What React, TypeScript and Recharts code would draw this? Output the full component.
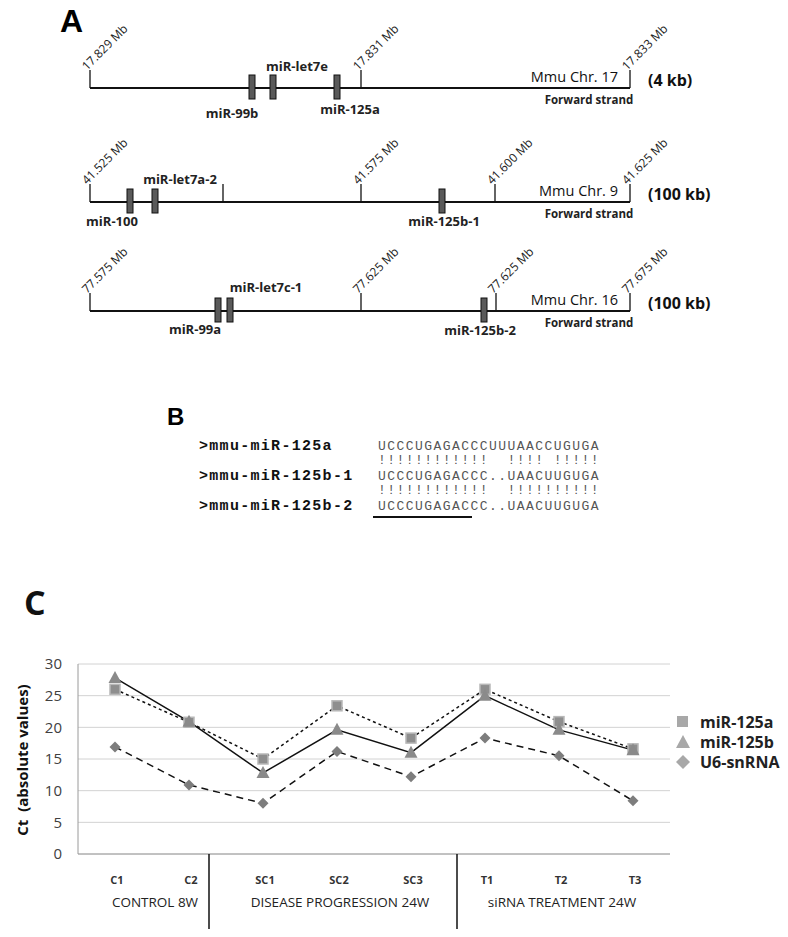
import { LineChart, Line, XAxis, YAxis, CartesianGrid, Legend } from 'recharts';

// panel C data
const categories = ['C1', 'C2', 'SC1', 'SC2', 'SC3', 'T1', 'T2', 'T3'];
const mir125a = [26.0, 20.8, 15.0, 23.4, 18.3, 26.0, 20.9, 16.6];
const mir125b = [27.8, 20.9, 12.8, 19.6, 16.0, 25.0, 19.6, 16.4];
const u6snRNA = [16.9, 10.9, 8.0, 16.2, 12.2, 18.3, 15.5, 8.4];
const yTicks = [0, 5, 10, 15, 20, 25, 30];
const groups = [
  { label: 'CONTROL 8W', first: 0, last: 1 },
  { label: 'DISEASE PROGRESSION 24W', first: 2, last: 4 },
  { label: 'siRNA TREATMENT 24W', first: 5, last: 7 },
];

// panel A: genomic maps
const tracks = [
  {
    y: 88,
    ticks: [
      { x: 90, label: '17.829 Mb' },
      { x: 361, label: '17.831 Mb' },
      { x: 630, label: '17.833 Mb' },
    ],
    boxes: [252, 273, 337],
    genes: [
      { name: 'miR-let7e', x: 297, dy: -17 },
      { name: 'miR-99b', x: 232, dy: 30 },
      { name: 'miR-125a', x: 350, dy: 26 },
    ],
    chr: 'Mmu Chr. 17',
    size: '(4 kb)',
  },
  {
    y: 202,
    ticks: [
      { x: 90, label: '41.525 Mb' },
      { x: 223, label: '' },
      { x: 361, label: '41.575 Mb' },
      { x: 495, label: '41.600 Mb' },
      { x: 630, label: '41.625 Mb' },
    ],
    boxes: [130, 155, 442],
    genes: [
      { name: 'miR-let7a-2', x: 180, dy: -18 },
      { name: 'miR-100', x: 112, dy: 24 },
      { name: 'miR-125b-1', x: 444, dy: 24 },
    ],
    chr: 'Mmu Chr. 9',
    size: '(100 kb)',
  },
  {
    y: 311,
    ticks: [
      { x: 90, label: '77.575 Mb' },
      { x: 361, label: '77.625 Mb' },
      { x: 496, label: '77.625 Mb' },
      { x: 630, label: '77.675 Mb' },
    ],
    boxes: [218, 230, 484],
    genes: [
      { name: 'miR-let7c-1', x: 266, dy: -19 },
      { name: 'miR-99a', x: 195, dy: 23 },
      { name: 'miR-125b-2', x: 480, dy: 24 },
    ],
    chr: 'Mmu Chr. 16',
    size: '(100 kb)',
  },
];

// panel B: alignment
const seqNames = ['>mmu-miR-125a', '>mmu-miR-125b-1', '>mmu-miR-125b-2'];
const seqs = ['UCCCUGAGACCCUUUAACCUGUGA', 'UCCCUGAGACCC..UAACUUGUGA', 'UCCCUGAGACCC..UAACUUGUGA'];
const matches = ['!!!!!!!!!!!!  !!!! !!!!!', '!!!!!!!!!!!!  !!!!!!!!!!'];

const rows = categories.map((c, i) => ({
  cat: c,
  a: mir125a[i],
  b: mir125b[i],
  u6: u6snRNA[i],
}));

const FONT = '"Open Sans", sans-serif';
const nb = (s: string) => s.replace(/ /g, '\u00A0');

const SquareDot = (p: any) => {
  if (p.cx == null) return null;
  return <rect key={`a-${p.index}`} x={p.cx - 5} y={p.cy - 5} width={10} height={10} fill="#8e8e8e" stroke="#b8b8b8" strokeWidth={1.5} />;
};
const TriDot = (p: any) => {
  if (p.cx == null) return null;
  const { cx, cy } = p;
  return <polygon key={`b-${p.index}`} points={`${cx},${cy - 7} ${cx + 6.5},${cy + 5} ${cx - 6.5},${cy + 5}`} fill="#8a8a8a" />;
};
const DiaDot = (p: any) => {
  if (p.cx == null) return null;
  const { cx, cy } = p;
  return <polygon key={`u-${p.index}`} points={`${cx},${cy - 5.5} ${cx + 5.5},${cy} ${cx},${cy + 5.5} ${cx - 5.5},${cy}`} fill="#7d7d7d" />;
};

const CatTick = (props: any) => {
  const { x, y, index, width } = props;
  const band = (width || 592) / categories.length;
  const g = groups.find((gr) => gr.first === index);
  return (
    <g>
      <text x={x + 2} y={y + 22} textAnchor="middle" fontSize={11} fontWeight={700} fill="#333" fontFamily={FONT}>
        {categories[index]}
      </text>
      {g && (
        <text x={x + ((g.last - g.first) / 2) * band + 3} y={y + 45} textAnchor="middle" fontSize={13.5} fill="#222" fontFamily={FONT}>
          {g.label}
        </text>
      )}
    </g>
  );
};

const legendItems = [
  { name: 'miR-125a', shape: 'square' },
  { name: 'miR-125b', shape: 'triangle' },
  { name: 'U6-snRNA', shape: 'diamond' },
];

const renderLegend = () => (
  <div style={{ fontFamily: FONT }}>
    {legendItems.map((it) => (
      <div key={it.name} style={{ display: 'flex', alignItems: 'center', height: 20 }}>
        <svg width={22} height={18}>
          {it.shape === 'square' && <rect x={3} y={3} width={11} height={11} fill="#a8a8a8" />}
          {it.shape === 'triangle' && <polygon points="9,2 16,15 2,15" fill="#a8a8a8" />}
          {it.shape === 'diamond' && <polygon points="9,2 16,9 9,16 2,9" fill="#a8a8a8" />}
        </svg>
        <span style={{ fontSize: 16, fontWeight: 700, color: '#222', marginLeft: 4 }}>{it.name}</span>
      </div>
    ))}
  </div>
);

const App = () => {
  return (
    <div style={{ position: 'absolute', left: 0, top: 0, width: 788, height: 937, background: '#fff', overflow: 'hidden' }}>
      <div style={{ position: 'absolute', left: 0, top: 600 }}>
        <LineChart width={788} height={337} data={rows} margin={{ top: 64, right: 118, bottom: 0, left: 0 }}>
          <CartesianGrid vertical={false} stroke="#d2d2d2" />
          <XAxis
            dataKey="cat"
            height={83}
            interval={0}
            tickLine={false}
            axisLine={{ stroke: '#9a9a9a' }}
            padding={{ left: 37, right: 37 }}
            tick={<CatTick />}
          />
          <YAxis
            domain={[0, 30]}
            ticks={yTicks}
            width={78}
            tickLine={false}
            tickMargin={10}
            axisLine={{ stroke: '#9a9a9a' }}
            tick={{ fontSize: 15, fill: '#404040', fontFamily: FONT }}
          />
          <YAxis yAxisId="r" orientation="right" domain={[0, 30]} width={0} tick={false} tickLine={false} axisLine={{ stroke: '#9a9a9a' }} />
          <Legend layout="horizontal" align="center" verticalAlign="middle" wrapperStyle={{ left: 674, top: 112, width: 114 }} content={renderLegend} />
          <Line dataKey="u6" stroke="#111" strokeWidth={1.5} strokeDasharray="7 5" dot={DiaDot} isAnimationActive={false} />
          <Line dataKey="a" stroke="#111" strokeWidth={1.5} strokeDasharray="3 3" dot={SquareDot} isAnimationActive={false} />
          <Line dataKey="b" stroke="#111" strokeWidth={1.5} dot={TriDot} isAnimationActive={false} />
        </LineChart>
      </div>
      <svg width={788} height={937} style={{ position: 'absolute', left: 0, top: 0, pointerEvents: 'none' }} fontFamily={FONT}>
        {/* panel A */}
        <text x={60} y={32} fontSize={32} fontWeight={700} fontFamily="'Liberation Sans', Arial, sans-serif">A</text>
        {tracks.map((t, ti) => (
          <g key={ti}>
            <line x1={90} x2={630} y1={t.y} y2={t.y} stroke="#111" strokeWidth={2} />
            {t.ticks.map((tk, k) => (
              <g key={k}>
                <line x1={tk.x} x2={tk.x} y1={t.y - 18} y2={t.y} stroke="#111" strokeWidth={1.3} />
                {tk.label && (
                  <text transform={`translate(${tk.x - 3},${t.y - 17}) rotate(-45)`} fontSize={12} fill="#222">{tk.label}</text>
                )}
              </g>
            ))}
            {t.boxes.map((bx, k) => (
              <rect key={k} x={bx - 3} y={t.y - 13} width={6} height={24} fill="#5a5a5a" stroke="#111" strokeWidth={1} />
            ))}
            {t.genes.map((gn, k) => (
              <text key={k} x={gn.x} y={t.y + gn.dy} textAnchor="middle" fontSize={13} fontWeight={700} fill="#222">{gn.name}</text>
            ))}
            <text x={618} y={t.y - 6} textAnchor="end" fontSize={14.5} fill="#111">{t.chr}</text>
            <text x={589} y={t.y + 16} textAnchor="middle" fontSize={11.5} fontWeight={700} fill="#222">{t.size && 'Forward strand'}</text>
            <text x={648} y={t.y - 2} fontSize={16} fontWeight={700} fill="#111">{t.size}</text>
          </g>
        ))}
        {/* panel B */}
        <text x={167} y={425} fontSize={24} fontWeight={700} fontFamily="'Liberation Sans', Arial, sans-serif">B</text>
        {seqNames.map((n, i) => (
          <text key={n} x={199} y={450 + i * 30} fontSize={15} fontWeight={700} fill="#111" fontFamily="'Liberation Mono', monospace" style={{ letterSpacing: 1.3 }}>{n}</text>
        ))}
        {seqs.map((s, i) => (
          <text key={i} x={378} y={450 + i * 30} fontSize={13} fill="#555" fontFamily="'Liberation Mono', monospace" style={{ letterSpacing: 1.45 }}>{s}</text>
        ))}
        {matches.map((m, i) => (
          <text key={i} x={378} y={464 + i * 30} fontSize={13} fill="#555" fontFamily="'Liberation Mono', monospace" style={{ letterSpacing: 1.45 }}>{nb(m)}</text>
        ))}
        <line x1={373} x2={472} y1={517} y2={517} stroke="#111" strokeWidth={2} />
        {/* panel C */}
        <text x={24} y={615} fontSize={34} fontWeight={700} fill="#111">C</text>
        <text transform="translate(28,760) rotate(-90)" textAnchor="middle" fontSize={15} fontWeight={700} fill="#111">{nb('Ct  (absolute values)')}</text>
        <line x1={209} x2={209} y1={854} y2={929} stroke="#111" strokeWidth={1.5} />
        <line x1={457} x2={457} y1={854} y2={929} stroke="#111" strokeWidth={1.5} />
      </svg>
    </div>
  );
};

export default App;
